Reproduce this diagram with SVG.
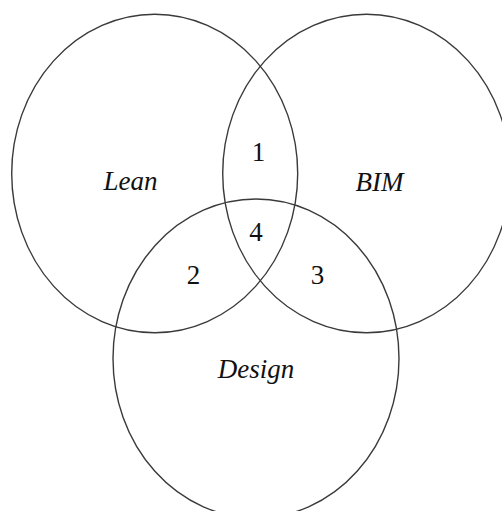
<svg xmlns="http://www.w3.org/2000/svg" width="502" height="511" viewBox="0 0 502 511">
<style>
.c{fill:none;stroke:#3a3a3a;stroke-width:1.4}
.t{font-family:"Liberation Serif","Times New Roman",serif;font-size:27px;fill:#111;text-anchor:middle}
.i{font-style:italic}
</style>
<rect width="502" height="511" fill="#fff"/>
<g id="lean"><ellipse class="c" cx="154.7" cy="173.5" rx="143" ry="159.3"/><text class="t i" x="130.5" y="190">Lean</text></g>
<g id="bim"><ellipse class="c" cx="366.5" cy="173.5" rx="143.8" ry="159.3"/><text class="t i" x="379.5" y="191">BIM</text></g>
<g id="design"><ellipse class="c" cx="256" cy="358.5" rx="143" ry="159.5"/><text class="t i" x="256" y="378">Design</text></g>
<g id="labels">
<text class="t" x="258.5" y="161">1</text>
<text class="t" x="256" y="241">4</text>
<text class="t" x="193.5" y="284">2</text>
<text class="t" x="317.5" y="284">3</text>
</g>
</svg>
